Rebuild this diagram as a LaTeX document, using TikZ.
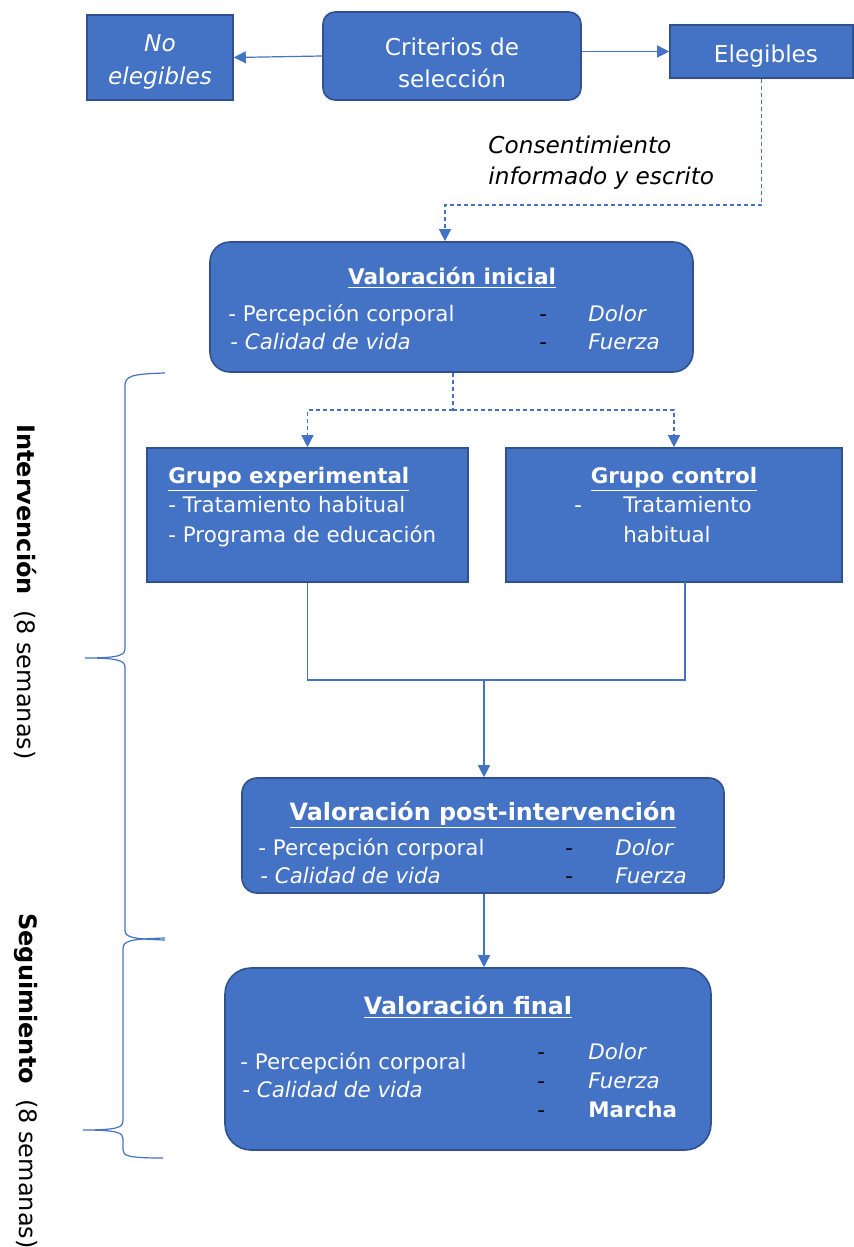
\documentclass[tikz,border=0pt]{standalone}
\usepackage{fontspec}
\setmainfont{DejaVu Sans}
\usetikzlibrary{arrows.meta}
\begin{document}
\begin{tikzpicture}[x=0.5pt,y=-0.5pt,
  blueBox/.style={draw=boxEdge, fill=boxBlue, line width=0.8pt, text=white, inner sep=0pt, align=center},
  flowLine/.style={draw=lineBlue, line width=0.6pt},
  flowArrow/.style={flowLine, -{Triangle[length=6pt,width=6pt]}},
  dashLine/.style={flowLine, dash pattern=on 2pt off 1.5pt},
  dashArrow/.style={flowArrow, dash pattern=on 2pt off 1.5pt},
  bodyTxt/.style={anchor=base west, inner sep=0pt, text=white, font=\fontsize{10.7}{12}\selectfont},
  itTxt/.style={bodyTxt, font=\itshape\fontsize{10.7}{12}\selectfont},
  dashTxt/.style={bodyTxt, text=black},
  topTxt/.style={inner sep=0pt, text=white, align=center, font=\fontsize{11.6}{16.3}\selectfont},
  titleTxt/.style={anchor=base, inner sep=0pt, text=white, font=\bfseries\fontsize{11.9}{14}\selectfont},
  groupTxt/.style={titleTxt, font=\bfseries\fontsize{10.7}{13}\selectfont},
  sideTxt/.style={rotate=-90, inner sep=0pt, font=\fontsize{12}{14}\selectfont}]
  \definecolor{boxBlue}{RGB}{68,114,196}
  \definecolor{boxEdge}{RGB}{47,82,143}
  \definecolor{lineBlue}{RGB}{68,114,196}
  \useasboundingbox (0,0) rectangle (854,1247);

  \node[blueBox, minimum width=73pt, minimum height=42.5pt] (noEleg) at (160,57.5) {};
  \node[topTxt, font=\itshape\fontsize{11.6}{16.3}\selectfont] (noElegT) at (160,62) {No\\elegibles};
  \node[blueBox, rounded corners=6pt, minimum width=129pt, minimum height=44pt] (criterios) at (452,56) {};
  \node[topTxt] (criteriosT) at (452,63) {Criterios de\\selección};
  \node[blueBox, minimum width=91.5pt, minimum height=26.5pt] (eleg) at (761.5,51.5) {};
  \node[topTxt] (elegT) at (766,56) {Elegibles};
  \node[anchor=north west, inner sep=0pt, align=left, font=\itshape\fontsize{11.6}{15.5}\selectfont] (consent) at (488,135) {Consentimiento\\informado y escrito};

  \node[blueBox, rounded corners=10pt, minimum width=241.5pt, minimum height=65pt] (vInicial) at (451.5,307) {};
  \node[titleTxt, font=\bfseries\fontsize{10.8}{13}\selectfont] (vInicialT) at (452,284) {\underline{Valoración inicial}};
  \node[bodyTxt] (vInicialA) at (228,321.5) {- Percepción corporal};
  \node[itTxt] (vInicialB) at (230,349.5) {- Calidad de vida};
  \node[dashTxt] (vInicialC) at (539,321.5) {-};
  \node[dashTxt] (vInicialD) at (539,349.5) {-};
  \node[itTxt] (vInicialE) at (588,321.5) {Dolor};
  \node[itTxt] (vInicialF) at (588,349.5) {Fuerza};

  \node[blueBox, minimum width=160.5pt, minimum height=67pt] (gExp) at (307.5,515) {};
  \node[groupTxt, anchor=base west] (gExpT) at (168,483) {\underline{Grupo experimental}};
  \node[bodyTxt] (gExpA) at (168,512.5) {- Tratamiento habitual};
  \node[bodyTxt] (gExpB) at (168,542.5) {- Programa de educación};

  \node[blueBox, minimum width=168pt, minimum height=67pt] (gCtrl) at (674,515) {};
  \node[groupTxt] (gCtrlT) at (674,483) {\underline{Grupo control}};
  \node[bodyTxt] (gCtrlA) at (574,512.5) {-};
  \node[bodyTxt] (gCtrlB) at (623,512.5) {Tratamiento};
  \node[bodyTxt] (gCtrlC) at (623,542.5) {habitual};

  \node[blueBox, rounded corners=7.5pt, minimum width=241pt, minimum height=57.5pt] (vPost) at (483,835.5) {};
  \node[titleTxt] (vPostT) at (483,820) {\underline{Valoración post-intervención}};
  \node[bodyTxt] (vPostA) at (258,855.5) {- Percepción corporal};
  \node[itTxt] (vPostB) at (260,883.5) {- Calidad de vida};
  \node[dashTxt] (vPostC) at (565,855.5) {-};
  \node[dashTxt] (vPostD) at (565,883.5) {-};
  \node[itTxt] (vPostE) at (615,855.5) {Dolor};
  \node[itTxt] (vPostF) at (615,883.5) {Fuerza};

  \node[blueBox, rounded corners=13pt, minimum width=243pt, minimum height=91pt] (vFinal) at (468,1059) {};
  \node[titleTxt] (vFinalT) at (468,1014) {\underline{Valoración final}};
  \node[bodyTxt] (vFinalA) at (240,1069.5) {- Percepción corporal};
  \node[itTxt] (vFinalB) at (242,1097.5) {- Calidad de vida};
  \node[dashTxt] (vFinalC) at (537,1059.5) {-};
  \node[dashTxt] (vFinalD) at (537,1088.5) {-};
  \node[dashTxt] (vFinalE) at (537,1117.5) {-};
  \node[itTxt] (vFinalF) at (588,1059.5) {Dolor};
  \node[itTxt] (vFinalG) at (588,1088.5) {Fuerza};
  \node[bodyTxt, font=\bfseries\fontsize{10.7}{12}\selectfont] (vFinalH) at (588,1117.5) {Marcha};

  \node[sideTxt] (interv) at (26,592) {\textbf{Intervención}\ \ (8 semanas)};
  \node[sideTxt] (seguim) at (26,1081) {\textbf{Seguimiento}\ \ (8 semanas)};

  \coordinate (consentTurn) at (445,205);
  \coordinate (split) at (453,410);
  \coordinate (merge) at (484,680);
  \coordinate (ctrlOut) at (685,582);

  \draw[flowArrow] (criterios.west) -- (noEleg.east);
  \draw[flowArrow] (eleg.west -| criterios.east) -- (eleg.west);
  \draw[dashArrow] (eleg.south) |- (consentTurn) -- (consentTurn |- vInicial.north);
  \draw[dashLine] (split |- vInicial.south) -- (split);
  \draw[dashArrow] (split) -| (gExp.north);
  \draw[dashArrow] (split) -| (gCtrl.north);
  \draw[flowLine] (gExp.south) |- (merge);
  \draw[flowLine] (ctrlOut) |- (merge);
  \draw[flowArrow] (merge) -- (merge |- vPost.north);
  \draw[flowArrow] (vPost.south -| merge) -- (merge |- vFinal.north);

  \draw[flowLine] (165,373) .. controls (131,374) and (125,376) .. (125,386) -- (125,648)
    .. controls (125,655) and (121,658) .. (85,658) .. controls (121,658) and (125,661) .. (125,668)
    -- (125,930) .. controls (125,937) and (131,939) .. (165,940);
  \draw[flowLine] (165,938) .. controls (129,939) and (123,941) .. (123,949) -- (123,1121)
    .. controls (123,1127) and (119,1130) .. (83,1130) .. controls (119,1130) and (123,1133) .. (123,1139)
    -- (123,1150) .. controls (123,1156) and (129,1158) .. (163,1158);
\end{tikzpicture}
\end{document}
